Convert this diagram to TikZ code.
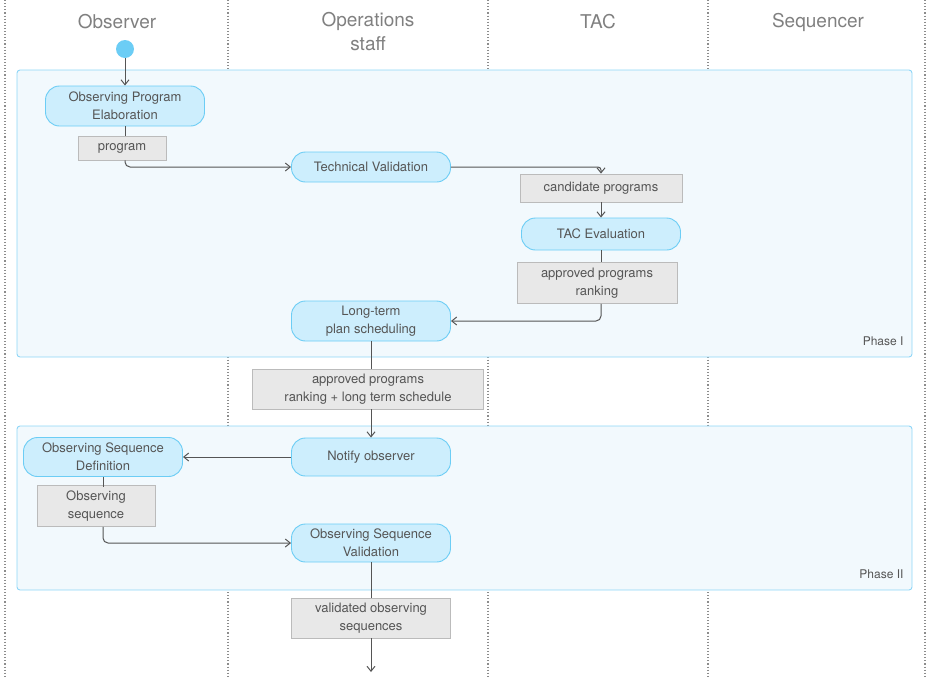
\documentclass[tikz,border=0pt]{standalone}
\usepackage{fontspec}
\setmainfont{TeX Gyre Heros}
\usetikzlibrary{arrows.meta}
\definecolor{act}{HTML}{CDEEFD}
\definecolor{actb}{HTML}{6CCDF5}
\definecolor{phase}{HTML}{F2F9FD}
\definecolor{phaseb}{HTML}{8ED6F7}
\definecolor{obj}{HTML}{E8E8E8}
\definecolor{objb}{HTML}{BBBBBB}
\definecolor{txt}{HTML}{555555}
\definecolor{ln}{HTML}{555555}
\begin{document}
\begin{tikzpicture}[x=1pt,y=-1pt,
  activity/.style={draw=actb,fill=act,rounded corners=14pt,minimum width=159pt,align=center,text=txt,font=\fontsize{13}{18}\selectfont,line width=0.9pt,inner sep=1pt},
  objbox/.style={draw=objb,fill=obj,align=center,text=txt,font=\fontsize{13}{18}\selectfont,line width=0.8pt,inner sep=1pt},
  conn/.style={draw=ln,line width=1pt,rounded corners=5pt},
  arr/.style={conn,-{Straight Barb[length=5pt,width=8pt]}},
  lane/.style={draw=gray!90,dotted,line width=1.1pt},
  header/.style={text=gray,font=\fontsize{19}{24}\selectfont,align=center},
  phaselbl/.style={text=txt,font=\fontsize{12}{14}\selectfont,anchor=east}]
\useasboundingbox (0,0) rectangle (929,678);
\foreach \x in {5,228,488,708,925} \draw[lane] (\x,0) -- (\x,678);
\node[header] (h1) at (117,22) {Observer};
\node[header] (h2) at (368,32) {Operations\\staff};
\node[header] (h3) at (598,22) {TAC};
\node[header] (h4) at (818,22) {Sequencer};
\draw[draw=phaseb,fill=phase,rounded corners=3pt,line width=0.9pt] (17,70) rectangle (912,357);
\draw[draw=phaseb,fill=phase,rounded corners=3pt,line width=0.9pt] (17,426) rectangle (912,590);
\node[phaselbl] (p1) at (907,341) {Phase I};
\node[phaselbl] (p2) at (907,574) {Phase II};
\node[circle,fill=actb,minimum size=18pt,inner sep=0pt] (start) at (125,49) {};
\node[activity,minimum height=40pt] (ope) at (125,106) {Observing Program\\Elaboration};
\node[objbox,minimum width=88pt,minimum height=24pt] (prog) at (122,148) {program};
\node[activity,minimum height=30pt] (tv) at (371,167) {Technical Validation};
\node[objbox,minimum width=162pt,minimum height=28pt] (cand) at (601,188) {candidate programs};
\node[activity,minimum height=32pt] (tac) at (601,234) {TAC Evaluation};
\node[objbox,minimum width=160pt,minimum height=41pt] (apr) at (597,283) {approved programs\\ranking};
\node[activity,minimum height=40pt] (lt) at (371,321) {Long-term\\plan scheduling};
\node[objbox,minimum width=231pt,minimum height=40pt] (aps) at (368,389) {approved programs\\ranking + long term schedule};
\node[activity,minimum height=38pt] (no) at (371,457) {Notify observer};
\node[activity,minimum height=39pt] (osd) at (103,457) {Observing Sequence\\Definition};
\node[objbox,minimum width=118pt,minimum height=41pt] (os) at (96,506) {Observing\\sequence};
\node[activity,minimum height=38pt] (osv) at (371,543) {Observing Sequence\\Validation};
\node[objbox,minimum width=159pt,minimum height=40pt] (val) at (371,618) {validated observing\\sequences};
\coordinate (end) at (371,672);
\draw[arr] (start) -- (ope);
\draw[conn] (ope.south -| prog.north) ++(3,0) -- ++(0,10);
\draw[arr] ([xshift=3pt]prog.south) |- (tv.west);
\draw[arr,rounded corners=3pt] (tv.east) -| (cand.north);
\draw[arr] (cand.south) -- (tac.north);
\draw[conn] (tac.south -| apr.north) ++(4,0) -- ++(0,12);
\draw[arr] ([xshift=4pt]apr.south) |- (lt.east);
\draw[conn] (lt.south) -- (lt.south |- aps.north);
\draw[arr] (no.north |- aps.south) -- (no.north);
\draw[arr] (no.west) -- (osd.east);
\draw[conn] (osd.south -| os.north) ++(7,0) -- ++(0,10);
\draw[arr] ([xshift=7pt]os.south) |- (osv.west);
\draw[conn] (osv.south) -- (val.north);
\draw[arr] (val.south) -- (end);
\end{tikzpicture}
\end{document}
